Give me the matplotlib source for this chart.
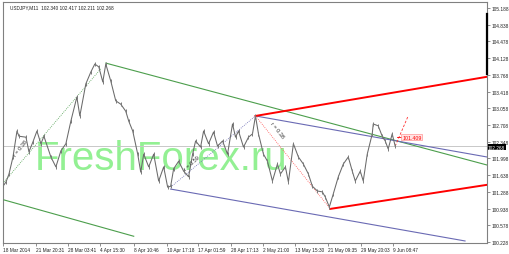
import numpy as np
import matplotlib
matplotlib.use("Agg")
import matplotlib.pyplot as plt

# price path (bar position, price)
bars = [2, 5, 8, 12, 16, 18, 25, 28, 32, 36, 40, 43, 50, 55, 60, 65, 70, 76, 79, 85,
        90, 94, 98, 102, 105, 110, 115, 120, 125, 128, 132, 137, 140, 143, 148, 153, 158, 163, 167, 170,
        173, 178, 183, 188, 192, 195, 200, 203, 208, 213, 217, 222, 227, 232, 235, 238, 243, 248, 252, 255,
        258, 263, 267, 272, 277, 280, 285, 288, 293, 298, 303, 308, 312, 317, 322, 325, 329, 333, 338, 343,
        348, 352, 355, 360, 363, 367, 372, 373, 378, 382, 385, 388, 392, 395]
prices = [101.41, 101.50, 101.67, 102.03, 102.58, 102.47, 102.45, 102.14, 102.35, 102.58, 102.31, 102.47, 102.03, 101.82, 102.16, 102.31, 102.79, 103.30, 102.90, 103.58,
          103.83, 104.00, 103.94, 103.62, 104.00, 103.64, 103.22, 103.15, 103.00, 102.79, 102.58, 102.09, 101.71, 102.09, 101.82, 102.09, 101.52, 101.82, 101.39, 101.41,
          101.78, 101.94, 101.73, 101.61, 102.09, 102.37, 102.24, 102.58, 102.31, 102.56, 102.26, 102.37, 102.09, 102.73, 102.45, 102.58, 102.24, 102.45, 102.52, 102.90,
          102.52, 102.09, 101.94, 101.52, 101.88, 101.67, 101.82, 101.50, 102.31, 102.03, 101.88, 101.67, 101.41, 101.31, 101.29, 101.18, 100.97, 101.25, 101.61, 101.88,
          102.03, 101.73, 101.52, 101.73, 101.52, 102.09, 102.52, 102.73, 102.69, 102.47, 102.37, 102.20, 102.52, 102.26]

# drawn objects: (bar0, price0, bar1, price1)
green_upper = [105, 104.02, 487, 101.86]
green_lower = [3, 101.12, 133, 100.35]
blue_upper = [255, 102.90, 487, 102.03]
blue_lower = [170, 101.35, 465, 100.25]
red_upper = [255, 102.90, 487, 103.73]
red_lower = [330, 100.93, 487, 101.44]
green_dotted = [3, 101.50, 100, 103.90]
blue_dotted = [170, 101.39, 255, 102.90]
red_dotted = [255, 102.90, 330, 100.93]
red_dashed = [395, 102.26, 408, 102.90]

y_ticks = [105.188, 104.838, 104.478, 104.128, 103.768, 103.418, 103.058, 102.708,
           102.348, 101.998, 101.638, 101.288, 100.938, 100.578, 100.228]
x_tick_bars = [2, 35, 67, 99, 133, 166, 197, 230, 263, 295, 328, 361, 393]
x_tick_labels = ["18 Mar 2014", "21 Mar 20:31", "28 Mar 03:41", "4 Apr 15:30", "8 Apr 10:46",
                 "10 Apr 17:18", "17 Apr 01:59", "28 Apr 17:13", "2 May 21:00", "13 May 15:30",
                 "21 May 09:35", "29 May 20:03", "9 Jun 08:47"]
last_price = 102.268
title = "USDJPY,M11  102.340 102.417 102.211 102.268"

plt.rcParams['font.family'] = ['Liberation Sans', 'DejaVu Sans']
fs = 3.4

fig = plt.figure(figsize=(5.1, 2.55), dpi=100)
ax = fig.add_axes([3 / 510, 11 / 255, 484 / 510, 241 / 255])
ax.set_xlim(3, 487)
ax.set_ylim(100.207, 105.315)

for s in ax.spines.values():
    s.set_color('#808080')
    s.set_linewidth(0.8)

# watermark
ax.text(35 / 510, 85 / 255, "FreshForex.ru", transform=fig.transFigure, fontsize=29,
        color='#93F093', va='baseline', ha='left', zorder=1)

ax.axhline(last_price, color='#c8c8c8', lw=0.7, zorder=2)

def seg(p, **kw):
    ax.plot([p[0], p[2]], [p[1], p[3]], **kw)

seg(green_upper, color='#4c9e4c', lw=0.8, zorder=3)
seg(green_lower, color='#4c9e4c', lw=0.8, zorder=3)
seg(blue_upper, color='#6a6ab4', lw=0.8, zorder=3)
seg(blue_lower, color='#6a6ab4', lw=0.8, zorder=3)
seg(red_upper, color='#ff0000', lw=1.4, zorder=3)
seg(red_lower, color='#ff0000', lw=1.4, zorder=3)
seg(green_dotted, color='#4c9e4c', lw=0.6, ls=(0, (1, 1.5)), zorder=3)
seg(blue_dotted, color='#6a6ab4', lw=0.6, ls=(0, (1, 1.5)), zorder=3)
seg(red_dotted, color='#ff5050', lw=0.6, ls=(0, (1, 1.5)), zorder=3)
seg(red_dashed, color='#ff3030', lw=0.6, ls=(0, (3, 2)), zorder=3)

# price bars
ax.plot(bars, prices, color='#6a6a6a', lw=0.75, zorder=4)
ax.plot(bars, prices, ls='none', marker='|', ms=3.2, mew=0.7, color='#7a7a7a', zorder=4)

# ratio labels along the dotted lines
ax.text(20, 102.22, "r = 0.38", fontsize=fs + 0.6, rotation=52, color='#303030',
        ha='center', va='center', zorder=5)
ax.text(191, 101.92, "r = 0.59", fontsize=fs + 0.6, rotation=42, color='#303030',
        ha='center', va='center', zorder=5)
ax.text(277, 102.62, "r = 0.38", fontsize=fs + 0.6, rotation=-52, color='#303030',
        ha='center', va='center', zorder=5)

# price label of the red marker
ax.plot([397, 401], [102.45, 102.45], color='#ff0000', lw=0.6, zorder=5)
ax.text(402, 102.45, "101.409", fontsize=fs + 0.4, color='#ff0000', ha='left', va='center',
        bbox=dict(boxstyle='square,pad=0.15', fc='#ffe4e4', ec='#ff8080', lw=0.4), zorder=5)

# right price scale
ax.yaxis.tick_right()
ax.set_yticks(y_ticks)
ax.set_yticklabels([f"{v:.3f}" for v in y_ticks], fontsize=fs, color='#202020')
ax.tick_params(axis='y', direction='out', length=2, width=0.5, colors='#606060',
               labelcolor='#202020', pad=1)
ax.text(488, last_price - 0.03, f"{last_price:.3f}", transform=ax.transData, fontsize=fs,
        color='white', ha='left', va='center', clip_on=False,
        bbox=dict(boxstyle='square,pad=0.1', fc='black', ec='black', lw=0), zorder=6)
ax.plot([487, 487], [105.06, 103.79], color='black', lw=1.6, clip_on=False, zorder=6)

# time scale
ax.set_xticks(x_tick_bars)
ax.set_xticklabels(x_tick_labels, fontsize=fs, color='#202020', ha='left')
ax.tick_params(axis='x', direction='out', length=2, width=0.5, colors='#606060',
               labelcolor='#202020', pad=1)

fig.text(10 / 510, 247 / 255, title, fontsize=fs, color='#202020', ha='left', va='center')

fig.savefig("out.png", dpi=100)
